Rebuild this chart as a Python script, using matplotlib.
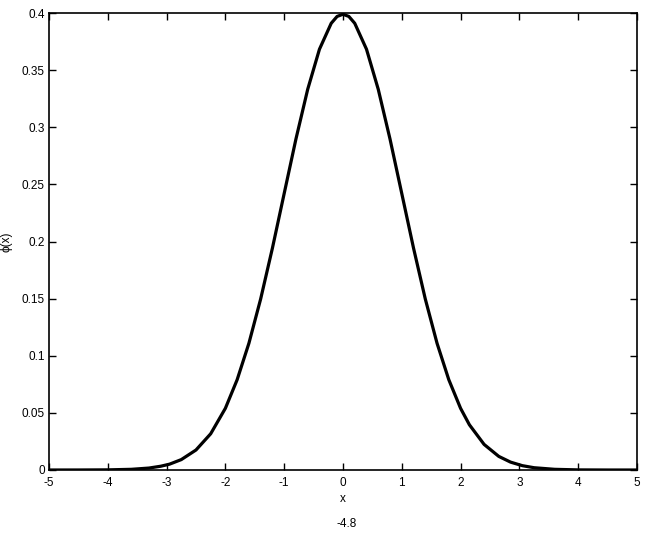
import matplotlib
matplotlib.use("Agg")
import matplotlib.pyplot as plt

# points (kinks of the polyline)
x_pts = [-5.0, -4.5, -4.0, -3.6, -3.3, -3.1, -2.95, -2.75, -2.5, -2.25, -2.0,
         -1.8, -1.6, -1.4, -1.2, -1.0, -0.8, -0.6, -0.4, -0.2, -0.1, 0.0,
         0.1, 0.2, 0.4, 0.6, 0.8, 1.0, 1.2, 1.4, 1.6, 1.8, 2.0, 2.15, 2.4,
         2.65, 2.85, 3.05, 3.25, 3.6, 4.0, 4.5, 5.0]
phi_pts = [0.0, 0.00002, 0.00013, 0.0006, 0.0017, 0.0033, 0.0051, 0.0091,
           0.0175, 0.0317, 0.054, 0.079, 0.1109, 0.1497, 0.1942, 0.242,
           0.2897, 0.3332, 0.3683, 0.391, 0.397, 0.3989, 0.397, 0.391,
           0.3683, 0.3332, 0.2897, 0.242, 0.1942, 0.1497, 0.1109, 0.079,
           0.054, 0.0396, 0.0224, 0.0119, 0.0069, 0.0038, 0.002, 0.0006,
           0.0001, 0.0, 0.0]

x_ticks = [-5, -4, -3, -2, -1, 0, 1, 2, 3, 4, 5]
y_ticks = [0, 0.05, 0.1, 0.15, 0.2, 0.25, 0.3, 0.35, 0.4]
y_ticklabels = ["0", "0.05", "0.1", "0.15", "0.2", "0.25", "0.3", "0.35", "0.4"]
note = "-4.8"

plt.rcParams['font.family'] = ['Liberation Sans', 'DejaVu Sans']
plt.rcParams['font.size'] = 8.5

fig = plt.figure(figsize=(6.47, 5.33), dpi=100)
ax = fig.add_axes([0.0757, 0.1182, 0.9088, 0.8574])

ax.plot(x_pts, phi_pts, color='black', linewidth=2.3, solid_joinstyle='round')

ax.set_xlim(-5, 5)
ax.set_ylim(0, 0.4)
ax.set_xticks(x_ticks)
ax.set_xticklabels([str(t) for t in x_ticks])
ax.set_yticks(y_ticks)
ax.set_yticklabels(y_ticklabels)
ax.tick_params(direction='in', length=5, width=1, top=True, right=True,
               labelsize=8.5)
ax.tick_params(axis='x', pad=5)
ax.tick_params(axis='y', pad=3)
for s in ax.spines.values():
    s.set_linewidth(1.2)

ax.set_xlabel('x', fontsize=8.5)
ax.set_ylabel('\u03d5(x)', fontsize=8.5)
ax.xaxis.set_label_coords(0.5, -23 / 457)
ax.yaxis.set_label_coords(-36 / 588, 0.5)

fig.text(347 / 647, 1 - 524 / 533, note, ha='center', va='center', fontsize=8.5)

fig.savefig('out.png', dpi=100, facecolor='white')
